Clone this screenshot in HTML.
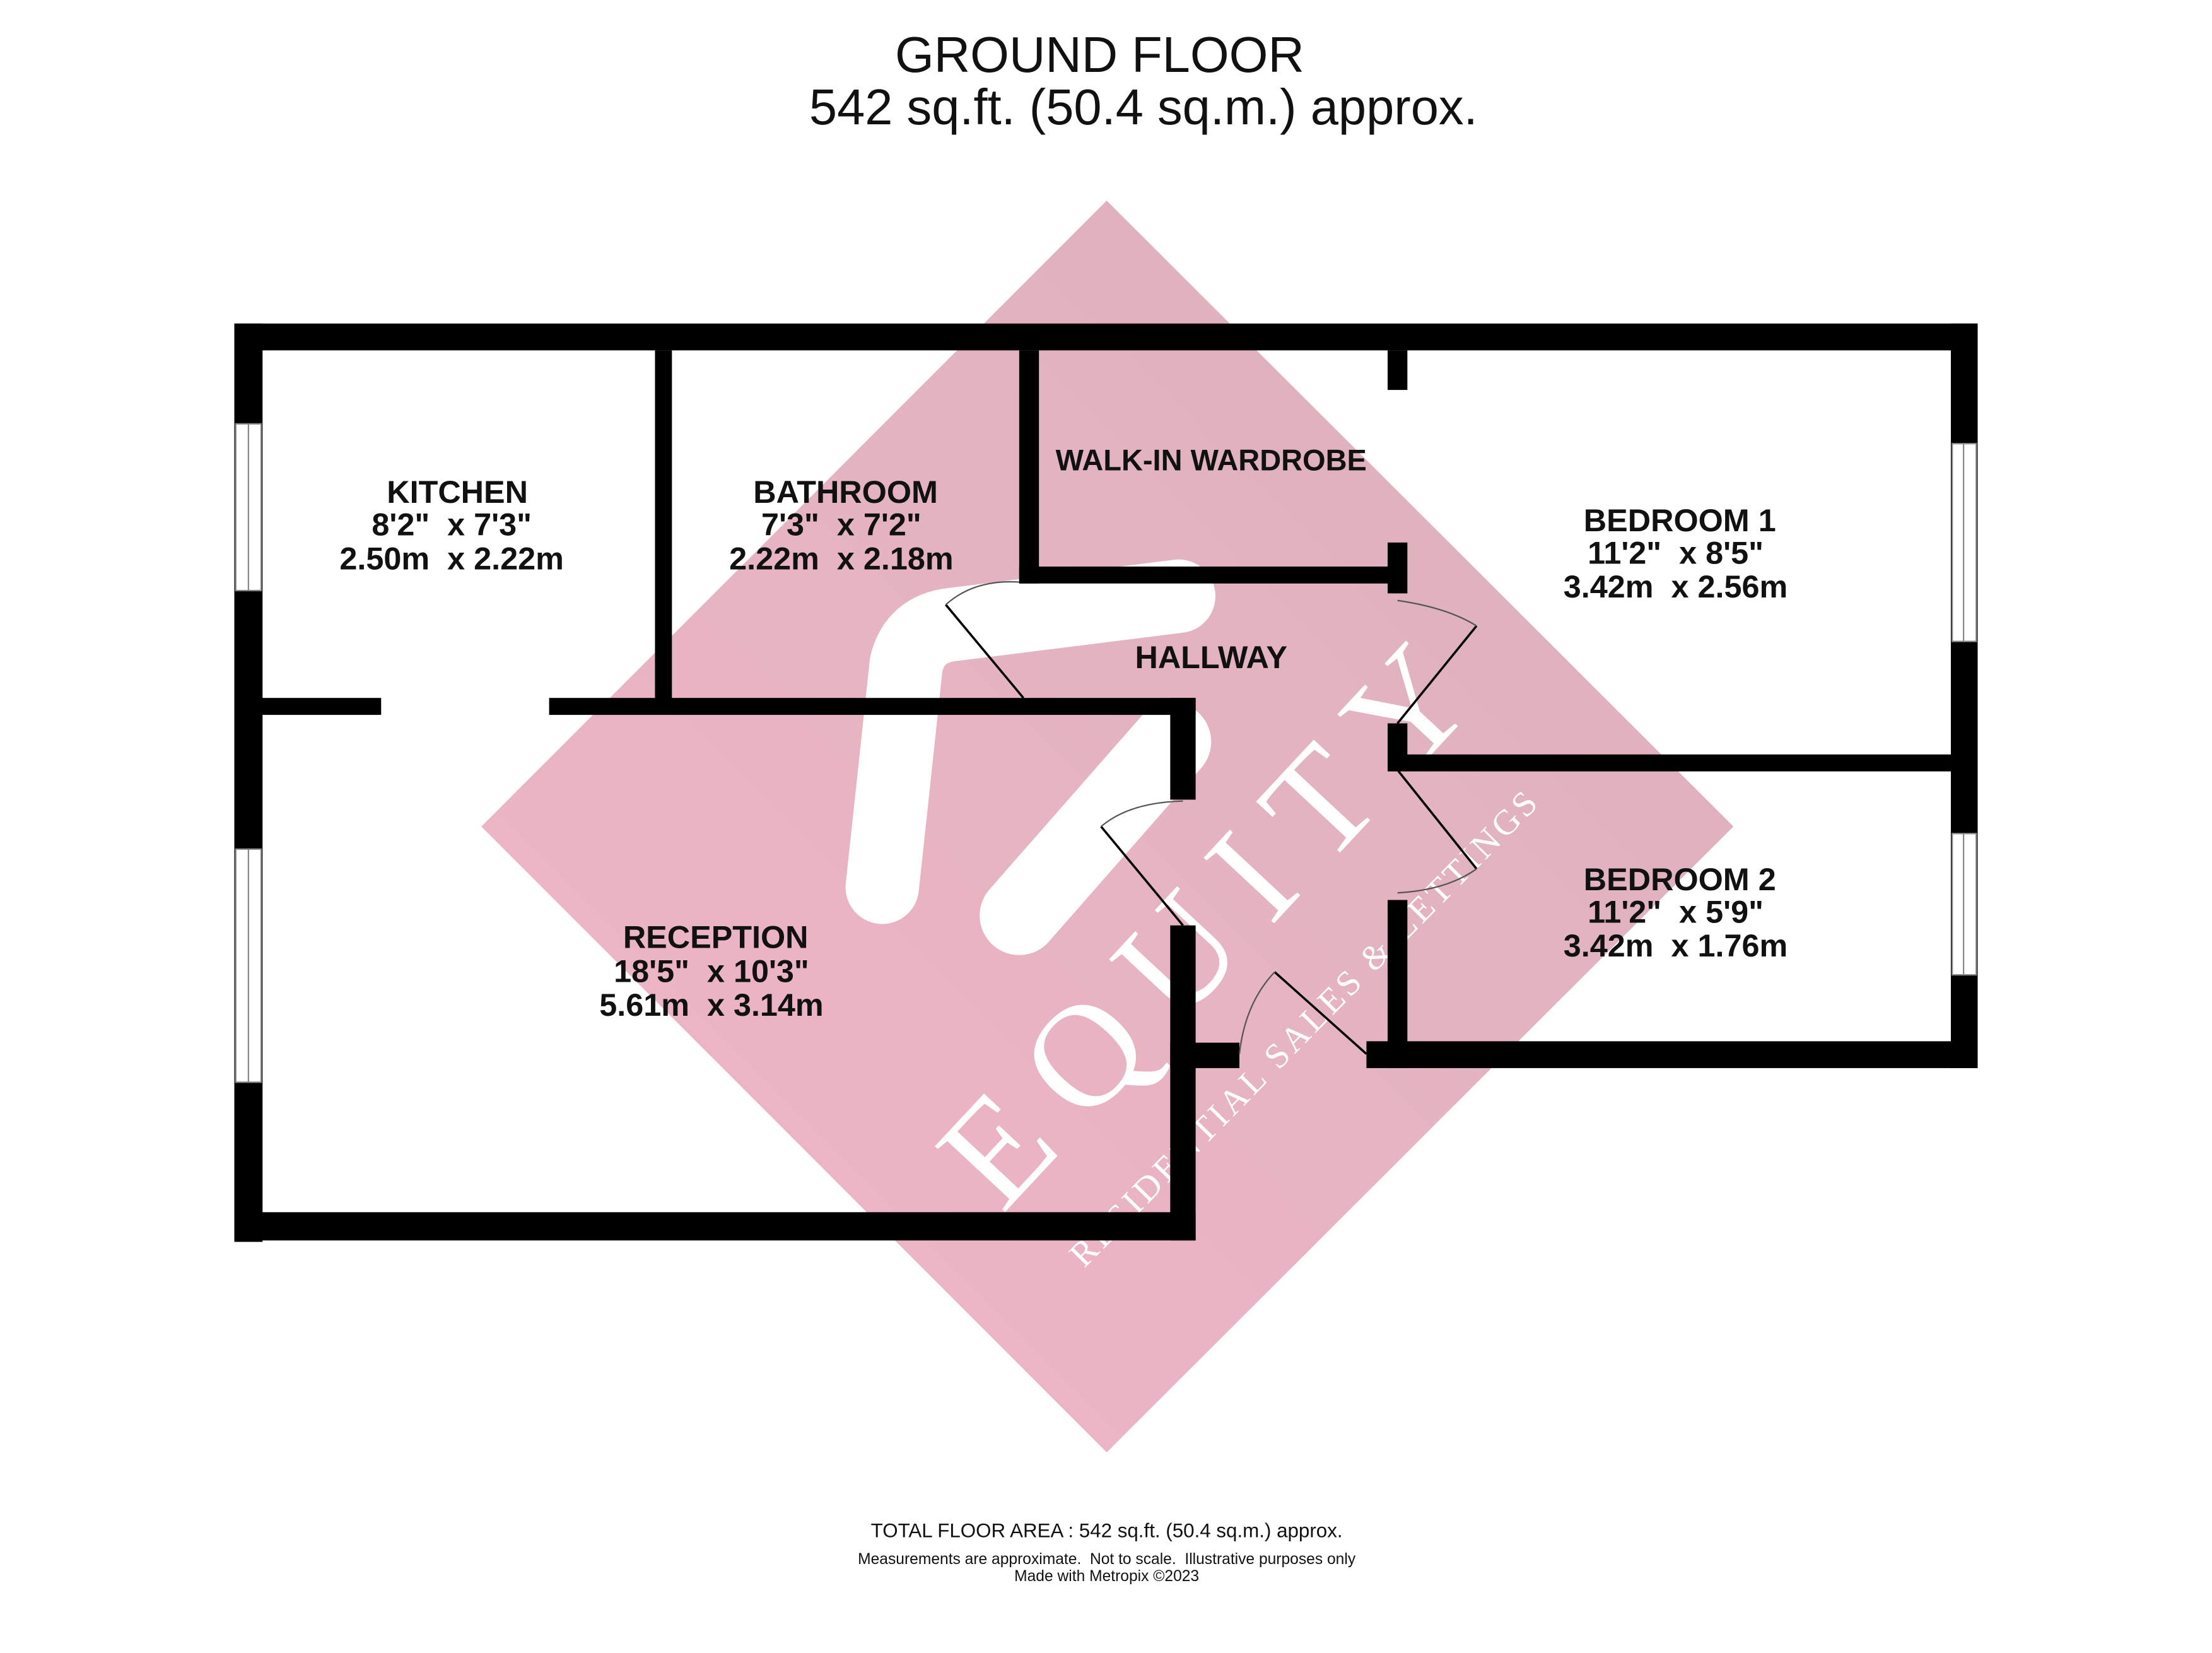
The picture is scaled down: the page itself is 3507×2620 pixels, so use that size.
<!DOCTYPE html>
<html><head><meta charset="utf-8"><style>
html,body{margin:0;padding:0;background:#fff;}
svg{display:block;}
</style></head><body>
<svg width="3507" height="2620" viewBox="0 0 1567 1170" preserveAspectRatio="none" xmlns="http://www.w3.org/2000/svg" font-family="'Liberation Sans', sans-serif">
<defs>
<linearGradient id="g" x1="0" y1="1" x2="1" y2="0">
<stop offset="0" stop-color="#f2b6c8"/>
<stop offset="1" stop-color="#d9b1bb"/>
</linearGradient>
</defs>
<rect width="1567" height="1170" fill="#fff"/>
<text x="779" y="51" font-size="35.5" text-anchor="middle" fill="#111">GROUND FLOOR</text>
<text x="810" y="88" font-size="35.5" text-anchor="middle" fill="#111">542 sq.ft. (50.4 sq.m.) approx.</text>

<polygon points="784,142 1228,585 784,1028 341,585" fill="url(#g)"/>
<g stroke="#fff" stroke-linecap="round" fill="none">
<path d="M625,628 L642,470 Q648,445 675,442 L835,422" stroke-width="52"/>
<path d="M722,648 L830,525" stroke-width="56"/>
</g>
<g fill="#fff" font-family="'Liberation Serif', serif">
<text transform="translate(710,860) rotate(-47)" font-size="104" textLength="495" lengthAdjust="spacing">EQUITY</text>
<text transform="translate(768,898) rotate(-45.5)" font-size="25" textLength="460" lengthAdjust="spacing">RESIDENTIAL SALES &amp; LETTINGS</text>
</g>

<g fill="#000">
<rect x="166" y="229" width="1235" height="19"/>
<rect x="166" y="229" width="20" height="650"/>
<rect x="166" y="858" width="681" height="20"/>
<rect x="166" y="494" width="104" height="12"/>
<rect x="389" y="494" width="458" height="12"/>
<rect x="464" y="248" width="12" height="252"/>
<rect x="722" y="248" width="14" height="165"/>
<rect x="722" y="401" width="268" height="12"/>
<rect x="983" y="248" width="14" height="28"/>
<rect x="983" y="384" width="14" height="36"/>
<rect x="829" y="494" width="18" height="72"/>
<rect x="829" y="655" width="18" height="223"/>
<rect x="829" y="738" width="49" height="18"/>
<rect x="983" y="512" width="14" height="33"/>
<rect x="983" y="534" width="418" height="12"/>
<rect x="983" y="637" width="14" height="119"/>
<rect x="1382" y="229" width="19" height="527"/>
<rect x="968" y="737" width="433" height="19"/>
</g>
<g fill="#fff" stroke="#888" stroke-width="1">
<rect x="167" y="300" width="18" height="118"/>
<line x1="176" y1="300" x2="176" y2="418"/>
<rect x="167" y="601" width="18" height="165"/>
<line x1="176" y1="601" x2="176" y2="766"/>
<rect x="1383" y="314" width="17" height="140"/>
<line x1="1391" y1="314" x2="1391" y2="454"/>
<rect x="1383" y="590" width="17" height="100"/>
<line x1="1391" y1="590" x2="1391" y2="690"/>
</g>
<g fill="none" stroke="#000" stroke-width="1.6">
<line x1="725" y1="494" x2="670" y2="428"/>
<line x1="990" y1="512" x2="1046" y2="443"/>
<line x1="838" y1="655" x2="780" y2="585"/>
<line x1="990" y1="545" x2="1046" y2="615"/>
<line x1="968" y1="746" x2="903" y2="688"/>
</g>
<g fill="none" stroke="#555" stroke-width="1">
<path d="M670,428 Q690,410 722,412"/>
<path d="M990,425 Q1025,430 1046,443"/>
<path d="M780,585 Q800,568 838,567"/>
<path d="M1046,615 Q1025,630 990,632"/>
<path d="M903,688 Q882,710 878,746"/>
</g>

<g font-weight="bold" font-size="22.5" text-anchor="middle" fill="#111">
<text x="324" y="356">KITCHEN</text>
<text x="320" y="379">8'2"&#160; x 7'3"</text>
<text x="320" y="403">2.50m&#160; x 2.22m</text>
<text x="599" y="356">BATHROOM</text>
<text x="596" y="379">7'3"&#160; x 7'2"</text>
<text x="596" y="403">2.22m&#160; x 2.18m</text>
<text x="858" y="333" font-size="21">WALK-IN WARDROBE</text>
<text x="858" y="473">HALLWAY</text>
<text x="1190" y="376">BEDROOM 1</text>
<text x="1187" y="399">11'2"&#160; x 8'5"</text>
<text x="1187" y="423">3.42m&#160; x 2.56m</text>
<text x="1190" y="630">BEDROOM 2</text>
<text x="1187" y="653">11'2"&#160; x 5'9"</text>
<text x="1187" y="677">3.42m&#160; x 1.76m</text>
<text x="507" y="671">RECEPTION</text>
<text x="504" y="695">18'5"&#160; x 10'3"</text>
<text x="504" y="719">5.61m&#160; x 3.14m</text>
</g>

<g text-anchor="middle" fill="#111">
<text x="784" y="1088" font-size="14">TOTAL FLOOR AREA : 542 sq.ft. (50.4 sq.m.) approx.</text>
<text x="784" y="1107" font-size="11" xml:space="preserve">Measurements are approximate.  Not to scale.  Illustrative purposes only</text>
<text x="784" y="1119" font-size="11">Made with Metropix ©2023</text>
</g>
</svg>
</body></html>
